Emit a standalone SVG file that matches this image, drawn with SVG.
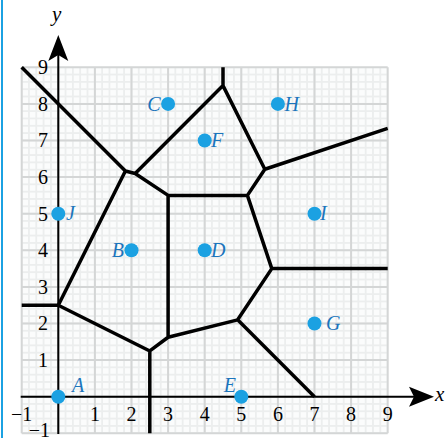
<svg xmlns="http://www.w3.org/2000/svg" width="448" height="438" viewBox="0 0 448 438">
<style>
.major{stroke:#d4d6d6;stroke-width:2;fill:none}
.axis{stroke:#000;stroke-width:2;fill:none}
.edge{stroke:#000;stroke-width:3.5;fill:none;stroke-linejoin:round;stroke-linecap:butt}
.tick{font-family:"Liberation Serif",serif;font-size:20px;fill:#000}
.pt{fill:#1ba1e2}
.lbl{font-family:"Liberation Serif",serif;font-style:italic;font-size:20px;fill:#1b75bc}
.ax{font-family:"Liberation Serif",serif;font-style:italic;font-size:21px;fill:#000}
</style>
<defs>
<pattern id="minor" patternUnits="userSpaceOnUse" x="20.7" y="66.3" width="7.32" height="7.32">
<rect width="7.32" height="7.32" fill="#eceeee"/>
<rect x="1.8" y="1.8" width="5.52" height="5.52" fill="#fbfcfc"/>
</pattern>
</defs>
<rect width="448" height="438" fill="#fff"/>
<line x1="2" y1="0" x2="2" y2="438" stroke="#1ba1e2" stroke-width="2"/>
<g id="grid">
<rect x="21.7" y="67.3" width="366" height="366" fill="url(#minor)"/>
<path class="major" d="M21.7 67.3V433.3M58.3 67.3V433.3M94.9 67.3V433.3M131.5 67.3V433.3M168.1 67.3V433.3M204.7 67.3V433.3M241.3 67.3V433.3M277.9 67.3V433.3M314.5 67.3V433.3M351.1 67.3V433.3M387.7 67.3V433.3M21.7 67.3H387.7M21.7 103.9H387.7M21.7 140.5H387.7M21.7 177.1H387.7M21.7 213.7H387.7M21.7 250.3H387.7M21.7 286.9H387.7M21.7 323.5H387.7M21.7 360.1H387.7M21.7 396.7H387.7M21.7 433.3H387.7"/>
</g>
<g id="axes">
<line class="axis" x1="20.7" y1="396.7" x2="414" y2="396.7"/>
<path d="M434 396.7L409 386.7L414 396.7L409 406.7Z" fill="#000"/>
<line class="axis" x1="58.3" y1="434" x2="58.3" y2="55"/>
<path d="M58.3 35L48.3 61L58.3 55L68.3 61Z" fill="#000"/>
<text class="ax" x="435" y="401">x</text>
<text class="ax" x="52" y="21">y</text>
</g>
<g id="ticks" class="tick">
<text x="21.7" y="421" text-anchor="middle">−1</text>
<text x="94.9" y="421" text-anchor="middle">1</text>
<text x="131.5" y="421" text-anchor="middle">2</text>
<text x="168.1" y="421" text-anchor="middle">3</text>
<text x="204.7" y="421" text-anchor="middle">4</text>
<text x="241.3" y="421" text-anchor="middle">5</text>
<text x="277.9" y="421" text-anchor="middle">6</text>
<text x="314.5" y="421" text-anchor="middle">7</text>
<text x="351.1" y="421" text-anchor="middle">8</text>
<text x="387.7" y="421" text-anchor="middle">9</text>
<text x="48" y="367" text-anchor="end">1</text>
<text x="48" y="330.4" text-anchor="end">2</text>
<text x="48" y="293.8" text-anchor="end">3</text>
<text x="48" y="257.2" text-anchor="end">4</text>
<text x="48" y="220.6" text-anchor="end">5</text>
<text x="48" y="184" text-anchor="end">6</text>
<text x="48" y="147.4" text-anchor="end">7</text>
<text x="48" y="110.8" text-anchor="end">8</text>
<text x="48" y="74.2" text-anchor="end">9</text>
<text x="50" y="436.5" text-anchor="end">−1</text>
</g>
<g id="connectors">
<path class="edge" d="M21.7 67.3L125.39 170.99L135.16 173.44L223 85.6L223 67.3M223 85.6L264.83 169.27L387.7 128.31M264.83 169.27L247.41 195.4L168.1 195.4L135.16 173.44M168.1 195.4L168.1 337.23L237.64 319.84L271.79 268.6L247.41 195.4M271.79 268.6L387.7 268.6M237.64 319.84L314.5 396.7M168.1 337.23L149.8 350.95L149.8 433.3M149.8 350.95L58.3 305.2L21.7 305.2M58.3 305.2L125.39 170.99"/>
</g>
<g id="A"><circle class="pt" cx="58.3" cy="396.7" r="7"/><text class="lbl" x="72" y="392">A</text></g>
<g id="B"><circle class="pt" cx="131.5" cy="250.3" r="7"/><text class="lbl" x="124" y="257" text-anchor="end">B</text></g>
<g id="C"><circle class="pt" cx="168.1" cy="103.9" r="7"/><text class="lbl" x="160.5" y="110.6" text-anchor="end">C</text></g>
<g id="D"><circle class="pt" cx="204.7" cy="250.3" r="7"/><text class="lbl" x="211" y="257">D</text></g>
<g id="E"><circle class="pt" cx="241.3" cy="396.7" r="7"/><text class="lbl" x="236" y="392" text-anchor="end">E</text></g>
<g id="F"><circle class="pt" cx="204.7" cy="140.5" r="7"/><text class="lbl" x="211" y="147.2">F</text></g>
<g id="G"><circle class="pt" cx="314.5" cy="323.5" r="7"/><text class="lbl" x="326" y="330.2">G</text></g>
<g id="H"><circle class="pt" cx="277.9" cy="103.9" r="7"/><text class="lbl" x="284.5" y="110.6">H</text></g>
<g id="I"><circle class="pt" cx="314.5" cy="213.7" r="7"/><text class="lbl" x="320" y="220.4">I</text></g>
<g id="J"><circle class="pt" cx="58.3" cy="213.7" r="7"/><text class="lbl" x="66" y="220.4">J</text></g>
</svg>
